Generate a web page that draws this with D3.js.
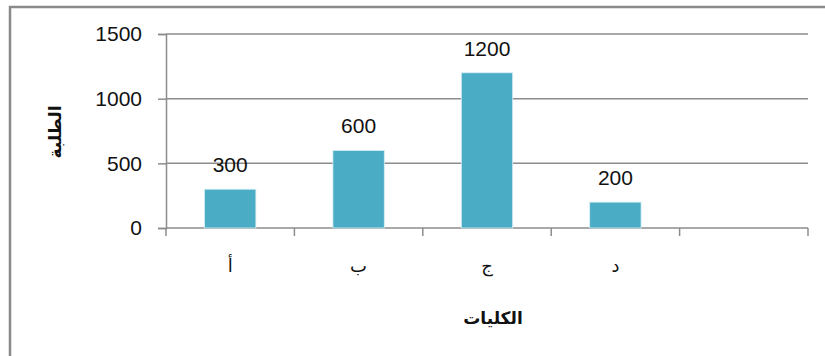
<!DOCTYPE html>
<html>
<head>
<meta charset="utf-8">
<script src="https://cdn.jsdelivr.net/npm/d3@7"></script>
<style>
  html, body { margin: 0; padding: 0; background: #fff; }
  svg { display: block; }
</style>
</head>
<body>
<svg id="chart" width="825" height="356"></svg>
<script>
// Student counts per college
const categories = ["أ", "ب", "ج", "د", ""];
const values = [300, 600, 1200, 200, null];
const yTicks = [0, 500, 1000, 1500];
const xTitle = "الكليات";
const yTitle = "الطلبة";

const svg = d3.select("#chart");
const W = 825, H = 356;
const plot = { left: 166, right: 808, top: 34, bottom: 228 };
const font = "'Liberation Sans', Arial, sans-serif";
const gridColor = "#8c8c8c";

// outer frame
svg.append("rect")
  .attr("x", 10).attr("y", 7)
  .attr("width", W + 20).attr("height", H + 20)
  .attr("fill", "#fff")
  .attr("stroke", "#8a8a8a").attr("stroke-width", 2.5);

const x = d3.scaleBand()
  .domain(d3.range(categories.length))
  .range([plot.left, plot.right])
  .paddingInner(0.6).paddingOuter(0.3);

const xOuter = d3.scaleBand()
  .domain(d3.range(categories.length))
  .range([plot.left, plot.right]);

const y = d3.scaleLinear().domain([0, 1500]).range([plot.bottom, plot.top]);

// horizontal gridlines and y tick marks
const yAxis = d3.axisLeft(y).tickValues(yTicks).tickFormat(d3.format("d"))
  .tickSize(8).tickPadding(16);
const gy = svg.append("g").attr("transform", `translate(${plot.left},0)`).call(yAxis);
gy.select(".domain").attr("stroke", gridColor).attr("stroke-width", 1.5);
gy.selectAll(".tick line").attr("stroke", gridColor).attr("stroke-width", 1.5);
gy.selectAll(".tick text")
  .attr("font-family", font).attr("font-size", 21).attr("fill", "#111");

svg.append("g").selectAll("line")
  .data(yTicks)
  .join("line")
  .attr("x1", plot.left).attr("x2", plot.right)
  .attr("y1", d => y(d)).attr("y2", d => y(d))
  .attr("stroke", gridColor).attr("stroke-width", 1.5);

// category axis with ticks at band boundaries
const bounds = d3.range(categories.length + 1).map(i =>
  i < categories.length ? xOuter(i) : xOuter(categories.length - 1) + xOuter.bandwidth());
svg.append("g").selectAll("line")
  .data(bounds)
  .join("line")
  .attr("x1", d => d).attr("x2", d => d)
  .attr("y1", plot.bottom).attr("y2", plot.bottom + 8)
  .attr("stroke", gridColor).attr("stroke-width", 1.5);

svg.append("g").selectAll("text")
  .data(categories)
  .join("text")
  .attr("x", (d, i) => xOuter(i) + xOuter.bandwidth() / 2)
  .attr("y", plot.bottom + 44)
  .attr("text-anchor", "middle")
  .attr("font-family", "'DejaVu Sans', sans-serif")
  .attr("font-size", 18).attr("fill", "#111")
  .text(d => d);

// bars
const data = values.map((v, i) => ({ i, v })).filter(d => d.v != null);
svg.append("g").selectAll("rect")
  .data(data)
  .join("rect")
  .attr("x", d => x(d.i))
  .attr("width", x.bandwidth())
  .attr("y", d => y(d.v))
  .attr("height", d => y(0) - y(d.v))
  .attr("fill", "#4bacc6")
  .attr("stroke", "#d6eef4").attr("stroke-width", 0.8);

// value labels
svg.append("g").selectAll("text")
  .data(data)
  .join("text")
  .attr("x", d => x(d.i) + x.bandwidth() / 2)
  .attr("y", d => y(d.v) - 17)
  .attr("text-anchor", "middle")
  .attr("font-family", font).attr("font-size", 21).attr("fill", "#111")
  .text(d => d.v);

// axis titles
svg.append("text")
  .attr("x", (plot.left + plot.right) / 2 + 6)
  .attr("y", 324)
  .attr("text-anchor", "middle")
  .attr("font-family", "'DejaVu Sans', sans-serif")
  .attr("font-weight", "bold").attr("font-size", 17).attr("fill", "#111")
  .text(xTitle);

svg.append("text")
  .attr("transform", "translate(61,132) rotate(-90)")
  .attr("text-anchor", "middle")
  .attr("font-family", "'DejaVu Sans', sans-serif")
  .attr("font-weight", "bold").attr("font-size", 17).attr("fill", "#111")
  .text(yTitle);
</script>
</body>
</html>
